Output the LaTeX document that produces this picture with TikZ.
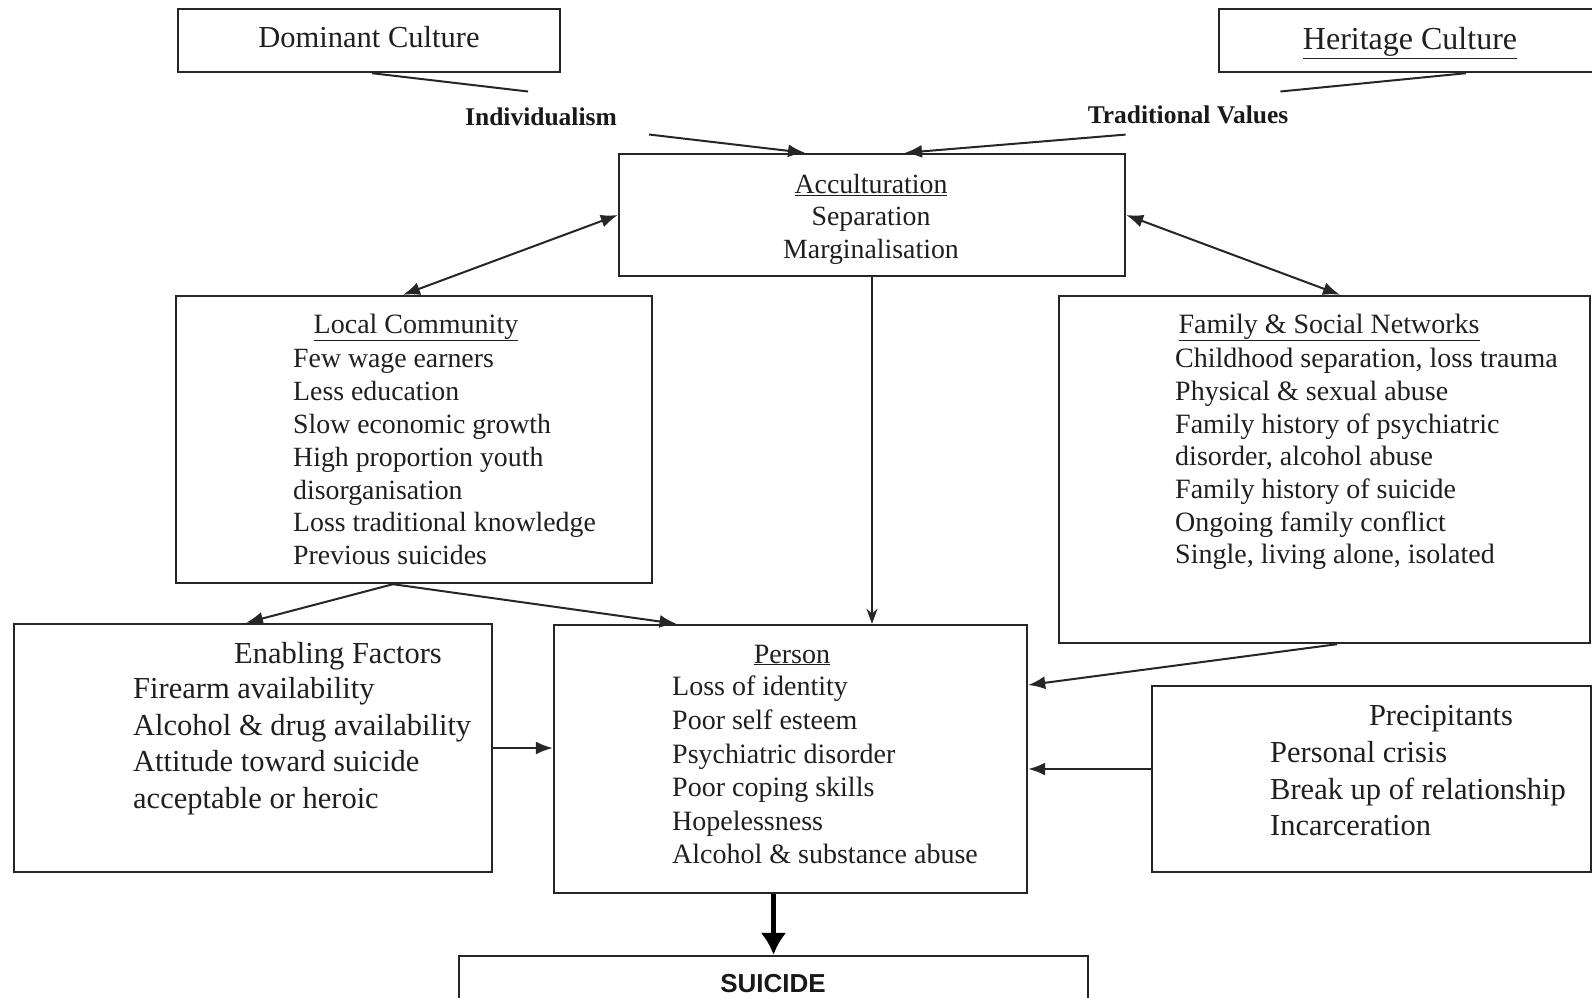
\documentclass[tikz,border=0pt]{standalone}
\usepackage{fontspec}
\setmainfont{Liberation Serif}
\newfontfamily\labelsans{Liberation Sans}
\usepackage{tikz}
\usetikzlibrary{arrows.meta,positioning,calc}

\begin{document}
\begin{tikzpicture}[
    x=1pt, y=-1pt,
    box/.style={draw=black!85, line width=2.4pt, inner sep=0pt},
    txt/.style={inner sep=0pt, text=black!88, font=\fontsize{28}{33}\selectfont},
    bigtxt/.style={inner sep=0pt, text=black!88, font=\fontsize{30.5}{36.7}\selectfont},
    tag/.style={inner sep=0pt, text=black!90, font=\fontsize{25.5}{28}\selectfont\bfseries},
    link/.style={draw=black!85, line width=2pt},
    arrow/.style={link, -{Latex[length=17pt,width=13pt]}},
    twoway/.style={link, {Latex[length=17pt,width=13pt]}-{Latex[length=17pt,width=13pt]}},
    downarrow/.style={link, line width=1.6pt, -{Stealth[length=15pt,width=11pt]}},
    heavy/.style={draw=black, line width=4.5pt, -{Latex[length=22pt,width=26pt]}}
]
\useasboundingbox (0,0) rectangle (1592,998);

% the two cultures
\node[box, minimum width=382pt, minimum height=63pt] (dom) at (369,40.5) {};
\node[txt, font=\fontsize{30.5}{36}\selectfont, anchor=base] (domtxt) at (369,48) {Dominant Culture};
\node[box, minimum width=481pt, minimum height=63pt] (her) at (1459.5,40.5) {};
\node[txt, font=\fontsize{32}{38}\selectfont, anchor=base] (hertxt) at (1410,50) {\underline{Heritage Culture}};
\node[tag, anchor=base] (indiv) at (541,125) {Individualism};
\node[tag, anchor=base] (trad) at (1188,123) {Traditional Values};

% acculturation
\node[box, minimum width=506pt, minimum height=122pt] (acc) at (872,215) {};
\node[txt, font=\fontsize{27.8}{32.5}\selectfont, anchor=north, align=center] (acctxt) at (871,174)
    {\underline{Acculturation}\\Separation\\Marginalisation};

% local community
\node[box, minimum width=476pt, minimum height=287pt] (local) at (414,439.5) {};
\node[txt, anchor=base] (localhead) at (416,333) {\underline{Local Community}};
\node[txt, font=\fontsize{27.8}{32.8}\selectfont, anchor=north west, align=left] (locallist) at (293,349.5)
    {Few wage earners\\Less education\\Slow economic growth\\High proportion youth\\disorganisation\\Loss traditional knowledge\\Previous suicides};

% family and social networks
\node[box, minimum width=531pt, minimum height=347pt] (fam) at (1324.5,469.5) {};
\node[txt, anchor=base] (famhead) at (1329,333) {\underline{Family \& Social Networks}};
\node[txt, font=\fontsize{28}{32.7}\selectfont, anchor=north west, align=left] (famlist) at (1175,348)
    {Childhood separation, loss trauma\\Physical \& sexual abuse\\Family history of psychiatric\\disorder, alcohol abuse\\Family history of suicide\\Ongoing family conflict\\Single, living alone, isolated};

% enabling factors
\node[box, minimum width=478pt, minimum height=248pt] (enab) at (253,748) {};
\node[bigtxt, anchor=base] (enabhead) at (338,663) {Enabling Factors};
\node[bigtxt, anchor=north west, align=left] (enablist) at (133,677)
    {Firearm availability\\Alcohol \& drug availability\\Attitude toward suicide\\acceptable or heroic};

% person
\node[box, minimum width=473pt, minimum height=268pt] (person) at (790.5,759) {};
\node[txt, anchor=base] (personhead) at (792,663) {\underline{Person}};
\node[txt, font=\fontsize{28}{33.6}\selectfont, anchor=north west, align=left] (personlist) at (672,676)
    {Loss of identity\\Poor self esteem\\Psychiatric disorder\\Poor coping skills\\Hopelessness\\Alcohol \& substance abuse};

% precipitants
\node[box, minimum width=439pt, minimum height=186pt] (precip) at (1371.5,779) {};
\node[bigtxt, anchor=base] (preciphead) at (1441,725) {Precipitants};
\node[bigtxt, anchor=north west, align=left] (preciplist) at (1270,741)
    {Personal crisis\\Break up of relationship\\Incarceration};

% outcome
\node[box, minimum width=629pt, minimum height=94pt] (suicide) at (773.5,1003) {};
\node[inner sep=0pt, text=black!90, font=\labelsans\bfseries\fontsize{26}{30}\selectfont, anchor=base] (suicidetxt) at (773,992) {SUICIDE};

% connectors
\draw[link] ($(dom.south)+(3,0)$) -- ($(indiv.north)+(-13,-15.6)$);
\draw[arrow] ($(indiv.south east)+(32,9)$) -- ($(acc.north)+(-67,0)$);
\draw[link] ($(her.south)+(6.5,0)$) -- ($(trad.north east)+(-8,-13.6)$);
\draw[arrow] ($(trad.south west)+(38,11)$) -- ($(acc.north)+(33,0)$);
\draw[twoway] ($(local.north)+(-11,0)$) -- (acc.west);
\draw[twoway] (acc.east) -- ($(fam.north)+(15.5,0)$);
\draw[downarrow] (acc.south) -- (acc.south |- person.north);
\draw[arrow] ($(local.south)+(-21,0)$) -- ($(enab.north)+(-7,0)$);
\draw[arrow] ($(local.south)+(-21,0)$) -- ($(person.north)+(-114,0)$);
\draw[arrow] (enab.east) -- (enab.east -| person.west);
\draw[arrow] ($(fam.south)+(12.5,0)$) -- ($(person.east)+(0,-74)$);
\draw[arrow] ($(precip.west)+(0,-10)$) -- ($(precip.west -| person.east)+(0,-10)$);
\draw[heavy] (suicide.north |- person.south) -- (suicide.north);
\end{tikzpicture}
\end{document}
